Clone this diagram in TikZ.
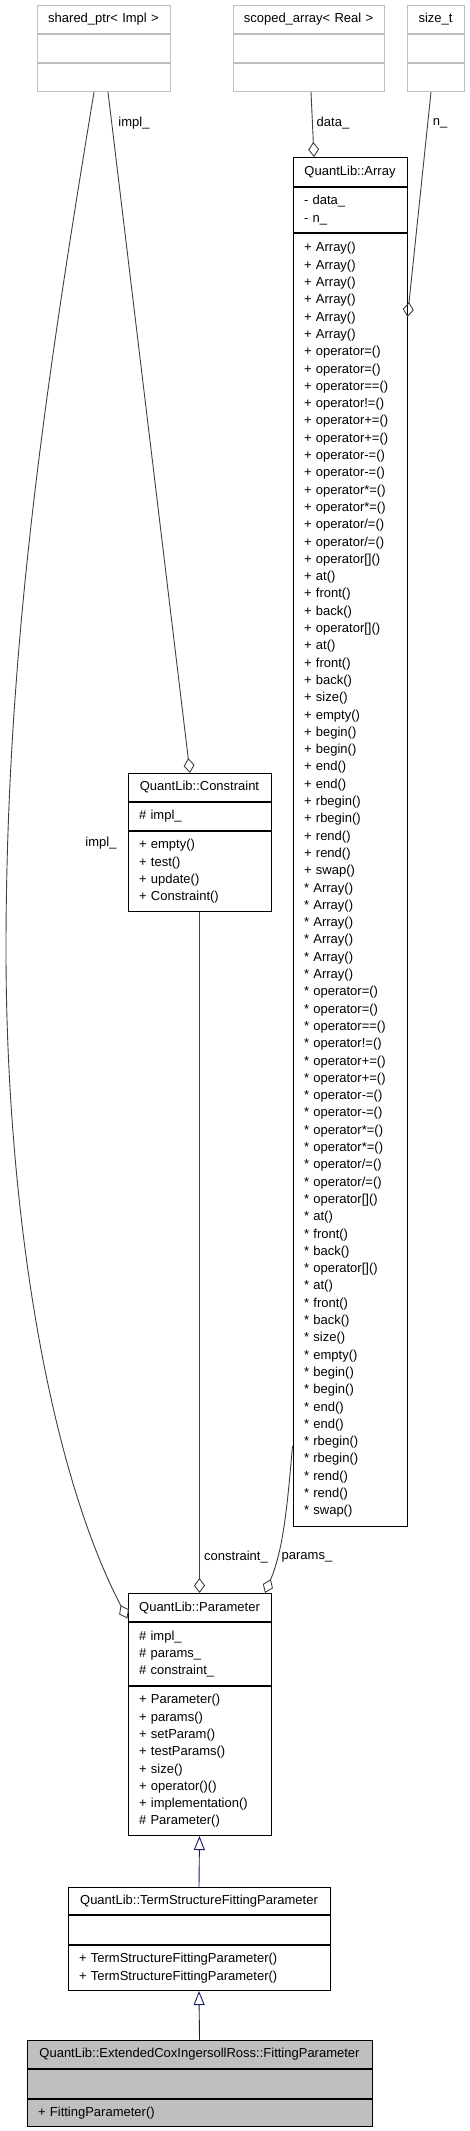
\documentclass[tikz,border=0pt]{standalone}
\usepackage{fontspec}
\setmainfont{Liberation Sans}
\usetikzlibrary{positioning,arrows.meta}
\definecolor{extgray}{HTML}{BFBFBF}
\definecolor{edgegray}{HTML}{404040}
\definecolor{inhblue}{HTML}{191970}
\definecolor{mainfill}{HTML}{BFBFBF}

% methods of QuantLib::Array, one group per prefix
\newcommand\arraymethods[1]{%
{#1} Array()\\{#1} Array()\\{#1} Array()\\{#1} Array()\\{#1} Array()\\{#1} Array()\\%
{#1} operator=()\\{#1} operator=()\\{#1} operator==()\\{#1} operator!=()\\%
{#1} operator+=()\\{#1} operator+=()\\{#1} operator-=()\\{#1} operator-=()\\%
{#1} operator*=()\\{#1} operator*=()\\{#1} operator/=()\\{#1} operator/=()\\%
{#1} operator[]()\\{#1} at()\\{#1} front()\\{#1} back()\\%
{#1} operator[]()\\{#1} at()\\{#1} front()\\{#1} back()\\%
{#1} size()\\{#1} empty()\\{#1} begin()\\{#1} begin()\\{#1} end()\\{#1} end()\\%
{#1} rbegin()\\{#1} rbegin()\\{#1} rend()\\{#1} rend()\\{#1} swap()}

\tikzset{
  cls/.style={draw=black, line width=1pt, rectangle, anchor=north, inner xsep=11pt,
    inner ysep=0pt, text width=#1pt-22pt, align=left},
  ext/.style={cls=#1, draw=extgray, inner xsep=3pt, text width=#1pt-6pt, align=center},
  member/.style={draw=edgegray, line width=0.9pt, -{Diamond[open, length=15pt, width=11pt]}},
  inherit/.style={draw=inhblue, line width=0.9pt, -{Triangle[open, length=14pt, width=11pt]}},
  lbl/.style={inner sep=0pt}
}

\begin{document}
\begin{tikzpicture}[x=1pt, y=-1pt, font=\fontsize{13}{17.3}\selectfont]
  \useasboundingbox (0,0) rectangle (469,2131);

  % outside classes
  \node[ext=133, minimum height=28pt] (spT) at (103.5,5) {shared\_ptr< Impl >};
  \node[ext=133, minimum height=28pt, below=0pt of spT] (spA) {};
  \node[ext=133, minimum height=28pt, below=0pt of spA] (spM) {};

  \node[ext=151, minimum height=28pt] (saT) at (308.5,5) {scoped\_array< Real >};
  \node[ext=151, minimum height=28pt, below=0pt of saT] (saA) {};
  \node[ext=151, minimum height=28pt, below=0pt of saA] (saM) {};

  \node[ext=57, minimum height=28pt] (stT) at (435.5,5) {size\_t};
  \node[ext=57, minimum height=28pt, below=0pt of stT] (stA) {};
  \node[ext=57, minimum height=28pt, below=0pt of stA] (stM) {};

  % QuantLib::Array
  \node[cls=114, align=center, minimum height=29pt] (arrT) at (350,157) {QuantLib::Array};
  \node[cls=114, minimum height=45pt, below=0pt of arrT] (arrA) {- data\_\\- n\_};
  \node[cls=114, minimum height=1293pt, below=0pt of arrA] (arrM) {\arraymethods{+}\\\arraymethods{*}};

  % QuantLib::Constraint
  \node[cls=143, align=center, minimum height=28pt] (conT) at (199.5,773) {QuantLib::Constraint};
  \node[cls=143, minimum height=28pt, below=0pt of conT] (conA) {\# impl\_};
  \node[cls=143, minimum height=80pt, below=0pt of conA] (conM) {+ empty()\\+ test()\\+ update()\\+ Constraint()};

  % QuantLib::Parameter
  \node[cls=143, align=center, minimum height=28pt] (parT) at (199.5,1593) {QuantLib::Parameter};
  \node[cls=143, minimum height=63pt, below=0pt of parT] (parA) {\# impl\_\\\# params\_\\\# constraint\_};
  \node[cls=143, minimum height=149pt, below=0pt of parA] (parM) {+ Parameter()\\+ params()\\+ setParam()\\+ testParams()\\+ size()\\+ operator()()\\+ implementation()\\\# Parameter()};

  % QuantLib::TermStructureFittingParameter
  \node[cls=262, align=center, minimum height=27pt] (tsfpT) at (199,1887) {QuantLib::TermStructureFittingParameter};
  \node[cls=262, minimum height=29pt, below=0pt of tsfpT] (tsfpA) {};
  \node[cls=262, minimum height=45pt, below=0pt of tsfpA] (tsfpM) {+ TermStructureFittingParameter()\\+ TermStructureFittingParameter()};

  % QuantLib::ExtendedCoxIngersollRoss::FittingParameter
  \node[cls=345, fill=mainfill, align=center, minimum height=28pt] (fpT) at (199.5,2040) {QuantLib::ExtendedCoxIngersollRoss::FittingParameter};
  \node[cls=345, fill=mainfill, minimum height=29pt, below=0pt of fpT] (fpA) {};
  \node[cls=345, fill=mainfill, minimum height=27pt, below=0pt of fpA] (fpM) {+ FittingParameter()};

  % members
  \draw[member] ([xshift=-9.5pt]spM.south) .. controls (45,389) and (6,650) .. (6,950)
    .. controls (6,1200) and (46,1462) .. ([yshift=-11pt]parT.west);
  \draw[member] ([xshift=4.5pt]spM.south) -- ([xshift=-9.5pt]conT.north);
  \draw[member] ([xshift=2.5pt]saM.south) -- ([xshift=-36pt]arrT.north);
  \draw[member] ([xshift=-4.5pt]stM.south) -- ([yshift=-84pt]arrM.north east);
  \draw[member] (conM.south) -- (parT.north);
  \draw[member] ([yshift=81pt]arrM.south west) .. controls (287,1510) and (283,1550) .. ([xshift=65.5pt]parT.north);

  % bases
  \draw[inherit] (tsfpT.north) -- (parM.south);
  \draw[inherit] (fpT.north) -- (tsfpM.south);

  % labels
  \node[lbl] (lImplA) at (134,123) {impl\_};
  \node[lbl] (lImplB) at (101,843) {impl\_};
  \node[lbl] (lData) at (333,123) {data\_};
  \node[lbl] (lN) at (440,123) {n\_};
  \node[lbl] (lCons) at (236,1557) {constraint\_};
  \node[lbl] (lParams) at (307,1557) {params\_};
\end{tikzpicture}
\end{document}
